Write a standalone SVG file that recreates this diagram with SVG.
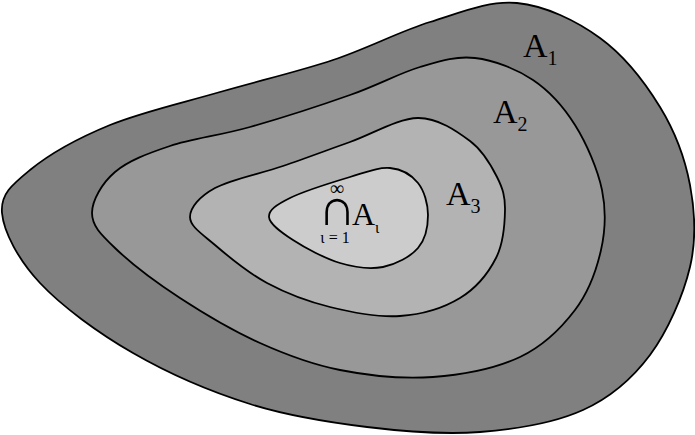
<svg xmlns="http://www.w3.org/2000/svg" width="695" height="435" viewBox="0 0 695 435">
<style>
.reg{stroke:#000;stroke-width:1.8;stroke-linejoin:round}
.lbl{font-family:"Liberation Serif","Times New Roman",serif;fill:#000}
</style>
<rect width="695" height="435" fill="#fff"/>
<g id="A1">
<path class="reg" fill="#808080" d="M 2,213 C 0.3,194.2 12,184.7 30,170 C 48,155.3 78.3,138 110,125 C 141.7,112 182.8,102.8 220,92 C 257.2,81.2 298,71.7 333,60 C 368,48.3 399.3,31.5 430,22 C 460.7,12.5 488.7,0.3 517,3 C 545.3,5.7 576.2,20.7 600,38 C 623.8,55.3 645,82.5 660,107 C 675,131.5 685,158.3 690,185 C 695,211.7 696.7,238.7 690,267 C 683.3,295.3 667.8,331.2 650,355 C 632.2,378.8 611.3,397.2 583,410 C 554.7,422.8 516,429.2 480,432 C 444,434.8 405.3,431.7 367,427 C 328.7,422.3 289,416.3 250,404 C 211,391.7 168,373.2 133,353 C 98,332.8 61.8,306.3 40,283 C 18.2,259.7 3.7,231.8 2,213 Z"/>
<text class="lbl" x="523" y="57" font-size="34">A<tspan font-size="20" dy="8">1</tspan></text>
</g>
<g id="A2">
<path class="reg" fill="#989898" d="M 92,213 C 92,200.3 102,183.2 115,172 C 128,160.8 147.5,153.5 170,146 C 192.5,138.5 220,135.5 250,127 C 280,118.5 321.7,105 350,95 C 378.3,85 399.2,73.2 420,67 C 440.8,60.8 456.2,55.8 475,58 C 493.8,60.2 516.3,68.8 533,80 C 549.7,91.2 563.5,106.7 575,125 C 586.5,143.3 597.7,169.2 602,190 C 606.3,210.8 605.5,230 601,250 C 596.5,270 588.5,292.2 575,310 C 561.5,327.8 543.7,345.8 520,357 C 496.3,368.2 463,374.8 433,377 C 403,379.2 368.8,375.7 340,370 C 311.2,364.3 286.7,355 260,343 C 233.3,331 204.2,313.8 180,298 C 155.8,282.2 129.7,262.2 115,248 C 100.3,233.8 92,225.7 92,213 Z"/>
<text class="lbl" x="493" y="123" font-size="34">A<tspan font-size="20" dy="8">2</tspan></text>
</g>
<g id="A3">
<path class="reg" fill="#b3b3b3" d="M 190,217 C 190,207.5 199.5,196.5 215,188 C 230.5,179.5 260.5,173.7 283,166 C 305.5,158.3 327.5,150 350,142 C 372.5,134 398,118.2 418,118 C 438,117.8 456.8,131.2 470,141 C 483.2,150.8 491.2,165.5 497,177 C 502.8,188.5 505.2,196.5 505,210 C 504.8,223.5 503.5,243.3 496,258 C 488.5,272.7 476,288.3 460,298 C 444,307.7 421.7,314.5 400,316 C 378.3,317.5 352.2,312.5 330,307 C 307.8,301.5 286.2,293.3 267,283 C 247.8,272.7 227.8,256 215,245 C 202.2,234 190,226.5 190,217 Z"/>
<text class="lbl" x="446" y="205" font-size="34">A<tspan font-size="20" dy="8">3</tspan></text>
</g>
<g id="intersection">
<path class="reg" fill="#cccccc" d="M 269,217 C 268.5,210 276.5,204.7 290,198 C 303.5,191.3 333.3,182 350,177 C 366.7,172 378.7,167 390,168 C 401.3,169 411.7,175.2 418,183 C 424.3,190.8 428,204.2 428,215 C 428,225.8 425.5,239.3 418,248 C 410.5,256.7 396,264.5 383,267 C 370,269.5 355,267.5 340,263 C 325,258.5 304.8,247.7 293,240 C 281.2,232.3 269.5,224 269,217 Z"/>
<text class="lbl" x="337" y="195" font-size="20" text-anchor="middle">∞</text>
<text class="lbl" x="337" y="225" font-size="52" text-anchor="middle">∩</text>
<text class="lbl" x="352" y="225" font-size="32">A<tspan font-size="16" dy="8">ι</tspan></text>
<text class="lbl" x="335" y="243" font-size="16" text-anchor="middle">ι = 1</text>
</g>
</svg>
